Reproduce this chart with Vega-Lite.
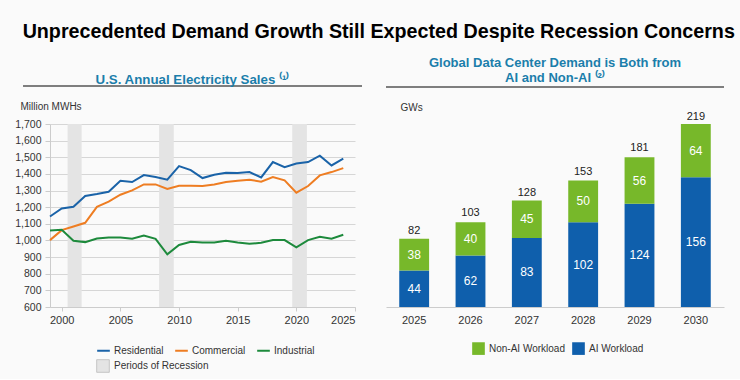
{
  "$schema": "https://vega.github.io/schema/vega-lite/v6.json",
  "background": "#fafafa",
  "padding": {"top": 21, "left": 14, "right": 10, "bottom": 5},
  "title": {
    "text": "Unprecedented Demand Growth Still Expected Despite Recession Concerns",
    "fontSize": 19.7,
    "fontWeight": "bold",
    "color": "#000000",
    "anchor": "middle",
    "dx": 9,
    "offset": 16
  },
  "spacing": 22,
  "resolve": {"scale": {"color": "independent", "fill": "independent"}},
  "datasets": {
    "sales": [
      {"year": 1999, "series": "Residential", "value": 1144},
      {"year": 2000, "series": "Residential", "value": 1192},
      {"year": 2001, "series": "Residential", "value": 1202},
      {"year": 2002, "series": "Residential", "value": 1267},
      {"year": 2003, "series": "Residential", "value": 1279},
      {"year": 2004, "series": "Residential", "value": 1293},
      {"year": 2005, "series": "Residential", "value": 1359},
      {"year": 2006, "series": "Residential", "value": 1351},
      {"year": 2007, "series": "Residential", "value": 1393},
      {"year": 2008, "series": "Residential", "value": 1381},
      {"year": 2009, "series": "Residential", "value": 1365},
      {"year": 2010, "series": "Residential", "value": 1447},
      {"year": 2011, "series": "Residential", "value": 1423},
      {"year": 2012, "series": "Residential", "value": 1375},
      {"year": 2013, "series": "Residential", "value": 1395},
      {"year": 2014, "series": "Residential", "value": 1407},
      {"year": 2015, "series": "Residential", "value": 1405},
      {"year": 2016, "series": "Residential", "value": 1411},
      {"year": 2017, "series": "Residential", "value": 1379},
      {"year": 2018, "series": "Residential", "value": 1471},
      {"year": 2019, "series": "Residential", "value": 1441},
      {"year": 2020, "series": "Residential", "value": 1463},
      {"year": 2021, "series": "Residential", "value": 1471},
      {"year": 2022, "series": "Residential", "value": 1510},
      {"year": 2023, "series": "Residential", "value": 1451},
      {"year": 2024, "series": "Residential", "value": 1492},
      {"year": 1999, "series": "Commercial", "value": 1002},
      {"year": 2000, "series": "Commercial", "value": 1062},
      {"year": 2001, "series": "Commercial", "value": 1084},
      {"year": 2002, "series": "Commercial", "value": 1106},
      {"year": 2003, "series": "Commercial", "value": 1202},
      {"year": 2004, "series": "Commercial", "value": 1233},
      {"year": 2005, "series": "Commercial", "value": 1275},
      {"year": 2006, "series": "Commercial", "value": 1301},
      {"year": 2007, "series": "Commercial", "value": 1337},
      {"year": 2008, "series": "Commercial", "value": 1337},
      {"year": 2009, "series": "Commercial", "value": 1309},
      {"year": 2010, "series": "Commercial", "value": 1329},
      {"year": 2011, "series": "Commercial", "value": 1329},
      {"year": 2012, "series": "Commercial", "value": 1327},
      {"year": 2013, "series": "Commercial", "value": 1337},
      {"year": 2014, "series": "Commercial", "value": 1351},
      {"year": 2015, "series": "Commercial", "value": 1359},
      {"year": 2016, "series": "Commercial", "value": 1365},
      {"year": 2017, "series": "Commercial", "value": 1353},
      {"year": 2018, "series": "Commercial", "value": 1381},
      {"year": 2019, "series": "Commercial", "value": 1361},
      {"year": 2020, "series": "Commercial", "value": 1287},
      {"year": 2021, "series": "Commercial", "value": 1327},
      {"year": 2022, "series": "Commercial", "value": 1391},
      {"year": 2023, "series": "Commercial", "value": 1411},
      {"year": 2024, "series": "Commercial", "value": 1435},
      {"year": 1999, "series": "Industrial", "value": 1060},
      {"year": 2000, "series": "Industrial", "value": 1064},
      {"year": 2001, "series": "Industrial", "value": 998},
      {"year": 2002, "series": "Industrial", "value": 990},
      {"year": 2003, "series": "Industrial", "value": 1012},
      {"year": 2004, "series": "Industrial", "value": 1018},
      {"year": 2005, "series": "Industrial", "value": 1018},
      {"year": 2006, "series": "Industrial", "value": 1010},
      {"year": 2007, "series": "Industrial", "value": 1030},
      {"year": 2008, "series": "Industrial", "value": 1010},
      {"year": 2009, "series": "Industrial", "value": 917},
      {"year": 2010, "series": "Industrial", "value": 973},
      {"year": 2011, "series": "Industrial", "value": 992},
      {"year": 2012, "series": "Industrial", "value": 988},
      {"year": 2013, "series": "Industrial", "value": 988},
      {"year": 2014, "series": "Industrial", "value": 998},
      {"year": 2015, "series": "Industrial", "value": 988},
      {"year": 2016, "series": "Industrial", "value": 980},
      {"year": 2017, "series": "Industrial", "value": 986},
      {"year": 2018, "series": "Industrial", "value": 1002},
      {"year": 2019, "series": "Industrial", "value": 1002},
      {"year": 2020, "series": "Industrial", "value": 959},
      {"year": 2021, "series": "Industrial", "value": 1002},
      {"year": 2022, "series": "Industrial", "value": 1022},
      {"year": 2023, "series": "Industrial", "value": 1010},
      {"year": 2024, "series": "Industrial", "value": 1034}
    ],
    "recessions": [
      {"start": 2000.5, "end": 2001.7, "label": "Periods of Recession"},
      {"start": 2008.3, "end": 2009.55, "label": "Periods of Recession"},
      {"start": 2019.65, "end": 2020.9, "label": "Periods of Recession"}
    ],
    "dc": [
      {"year": "2025", "series": "AI Workload", "value": 44},
      {"year": "2025", "series": "Non-AI Workload", "value": 38},
      {"year": "2026", "series": "AI Workload", "value": 62},
      {"year": "2026", "series": "Non-AI Workload", "value": 40},
      {"year": "2027", "series": "AI Workload", "value": 83},
      {"year": "2027", "series": "Non-AI Workload", "value": 45},
      {"year": "2028", "series": "AI Workload", "value": 102},
      {"year": "2028", "series": "Non-AI Workload", "value": 50},
      {"year": "2029", "series": "AI Workload", "value": 124},
      {"year": "2029", "series": "Non-AI Workload", "value": 56},
      {"year": "2030", "series": "AI Workload", "value": 156},
      {"year": "2030", "series": "Non-AI Workload", "value": 64}
    ],
    "totals": [
      {"year": "2025", "total": 82},
      {"year": "2026", "total": 103},
      {"year": "2027", "total": 128},
      {"year": "2028", "total": 153},
      {"year": "2029", "total": 181},
      {"year": "2030", "total": 219}
    ]
  },
  "hconcat": [
    {
      "width": 305,
      "height": 183,
      "title": {
        "text": "U.S. Annual Electricity Sales ⁽¹⁾",
        "fontSize": 13.3,
        "fontWeight": "bold",
        "color": "#1b7eab",
        "anchor": "middle",
        "dx": -10,
        "offset": -1
      },
      "resolve": {"axis": {"x": "independent", "y": "independent"}},
      "layer": [
        {
          "data": {"name": "recessions"},
          "mark": {"type": "rect"},
          "encoding": {
            "x": {"field": "start", "type": "quantitative", "scale": {"domain": [1999, 2025], "nice": false, "zero": false}, "axis": null},
            "x2": {"field": "end"},
            "fill": {
              "field": "label",
              "type": "nominal",
              "scale": {"range": ["#e4e4e4"]},
              "legend": {
                "title": null,
                "orient": "none",
                "legendX": 46,
                "legendY": 235,
                "symbolType": "square",
                "symbolSize": 160,
                "symbolStrokeColor": "#bbbbbb",
                "symbolStrokeWidth": 0.8,
                "labelFontSize": 10,
                "labelColor": "#333333",
                "labelOffset": 4
              }
            }
          }
        },
        {
          "data": {"name": "sales"},
          "mark": {"type": "line", "strokeWidth": 2},
          "encoding": {
            "x": {
              "field": "year",
              "type": "quantitative",
              "scale": {"domain": [1999, 2025], "nice": false, "zero": false},
              "axis": {
                "title": null,
                "values": [2000, 2005, 2010, 2015, 2020, 2025],
                "format": "d",
                "grid": false,
                "labelFontSize": 11,
                "labelColor": "#333333",
                "domainColor": "#cccccc",
                "tickColor": "#cccccc",
                "tickSize": 4,
                "labelPadding": 3
              }
            },
            "y": {
              "field": "value",
              "type": "quantitative",
              "scale": {"domain": [600, 1700], "nice": false, "zero": false},
              "axis": {
                "title": "Million MWHs",
                "titleAngle": 0,
                "titleAlign": "left",
                "titleBaseline": "alphabetic",
                "titleX": -30,
                "titleY": -15,
                "titleFontSize": 10,
                "titleFontWeight": "normal",
                "titleColor": "#333333",
                "values": [600, 700, 800, 900, 1000, 1100, 1200, 1300, 1400, 1500, 1600, 1700],
                "labelExpr": "datum.value >= 1000 ? floor(datum.value / 1000) + ',' + substring(toString(datum.value % 1000 + 1000), 1) : toString(datum.value)",
                "labelFontSize": 10.5,
                "labelColor": "#333333",
                "grid": true,
                "gridColor": "#d6d6d6",
                "gridOpacity": 1,
                "gridWidth": 1,
                "domainColor": "#cccccc",
                "tickColor": "#cccccc",
                "tickSize": 5,
                "labelPadding": 4
              }
            },
            "color": {
              "field": "series",
              "type": "nominal",
              "scale": {"domain": ["Residential", "Commercial", "Industrial"], "range": ["#1a63a8", "#ee7d22", "#1d8a3c"]},
              "legend": {
                "title": null,
                "orient": "none",
                "direction": "horizontal",
                "legendX": 46,
                "legendY": 219,
                "symbolType": "stroke",
                "symbolStrokeWidth": 2,
                "symbolSize": 160,
                "labelFontSize": 10,
                "labelColor": "#333333",
                "labelOffset": 3,
                "columnPadding": 7
              }
            }
          }
        },
        {
          "data": {"values": [{}]},
          "mark": {"type": "rule", "color": "#555555", "strokeWidth": 1.5},
          "encoding": {
            "x": {"datum": 1996.7, "axis": null},
            "x2": {"datum": 2025.6},
            "y": {"datum": 1928, "axis": null}
          }
        }
      ]
    },
    {
      "width": 338,
      "height": 183,
      "title": {
        "text": ["Global Data Center Demand is Both from", "AI and Non-AI ⁽²⁾"],
        "fontSize": 13,
        "fontWeight": "bold",
        "color": "#1b7eab",
        "anchor": "middle",
        "lineHeight": 15,
        "offset": 1
      },
      "layer": [
        {
          "data": {"name": "dc"},
          "mark": {"type": "bar"},
          "encoding": {
            "x": {
              "field": "year",
              "type": "ordinal",
              "scale": {"paddingInner": 0.47, "paddingOuter": 0.235},
              "axis": {
                "title": null,
                "labelAngle": 0,
                "labelFontSize": 11,
                "labelColor": "#333333",
                "ticks": false,
                "domainColor": "#cccccc",
                "labelPadding": 7
              }
            },
            "y": {
              "field": "value",
              "type": "quantitative",
              "stack": "zero",
              "scale": {"domain": [0, 220], "nice": false},
              "axis": {
                "title": "GWs",
                "titleAngle": 0,
                "titleAlign": "left",
                "titleBaseline": "alphabetic",
                "titleX": 14,
                "titleY": -14,
                "titleFontSize": 10,
                "titleFontWeight": "normal",
                "titleColor": "#333333",
                "labels": false,
                "ticks": false,
                "domain": false,
                "grid": false
              }
            },
            "color": {
              "field": "series",
              "type": "nominal",
              "scale": {"domain": ["Non-AI Workload", "AI Workload"], "range": ["#77b82a", "#0f5fac"]},
              "legend": {
                "title": null,
                "orient": "none",
                "direction": "horizontal",
                "legendX": 86,
                "legendY": 218,
                "symbolType": "square",
                "symbolSize": 160,
                "symbolStrokeWidth": 0,
                "labelFontSize": 10,
                "labelColor": "#333333",
                "labelOffset": 4,
                "columnPadding": 7
              }
            },
            "order": {"field": "series", "sort": "ascending"}
          }
        },
        {
          "data": {"name": "dc"},
          "mark": {"type": "text", "color": "#ffffff", "fontSize": 12},
          "encoding": {
            "x": {"field": "year", "type": "ordinal"},
            "y": {"field": "value", "type": "quantitative", "stack": "zero", "bandPosition": 0.5},
            "detail": {"field": "series"},
            "order": {"field": "series", "sort": "ascending"},
            "text": {"field": "value", "type": "quantitative"}
          }
        },
        {
          "data": {"name": "totals"},
          "mark": {"type": "text", "color": "#222222", "fontSize": 11, "dy": -8},
          "encoding": {
            "x": {"field": "year", "type": "ordinal"},
            "y": {"field": "total", "type": "quantitative"},
            "text": {"field": "total", "type": "quantitative"}
          }
        },
        {
          "data": {"values": [{}]},
          "mark": {"type": "rule", "color": "#555555", "strokeWidth": 1.5},
          "encoding": {"y": {"datum": 264.5}}
        }
      ]
    }
  ],
  "config": {
    "font": "Liberation Sans",
    "view": {"stroke": null}
  }
}
